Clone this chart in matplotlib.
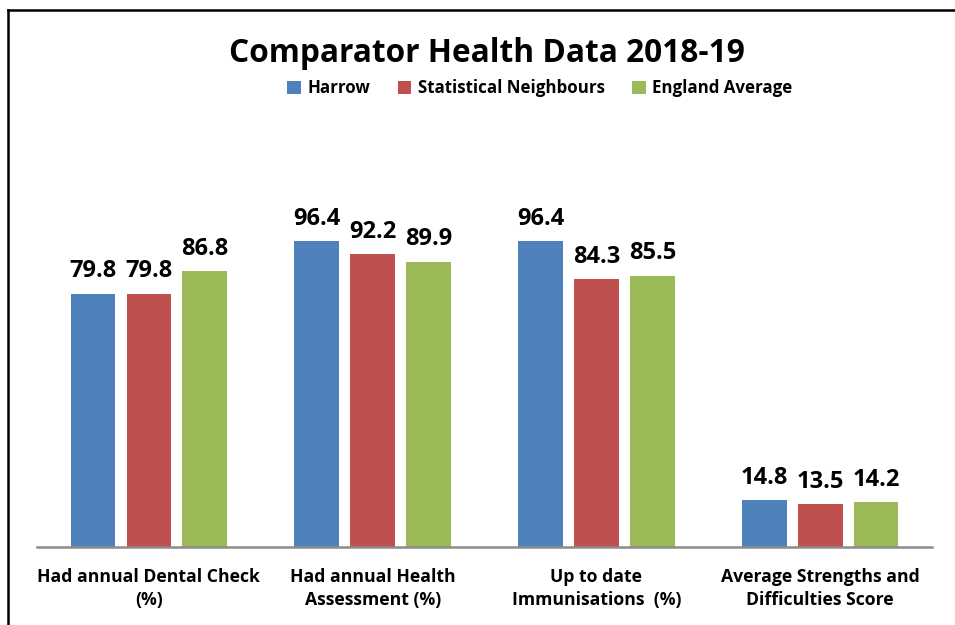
import numpy as np
import matplotlib.pyplot as plt
from matplotlib.lines import Line2D

plt.rcParams['font.family'] = ['Open Sans', 'DejaVu Sans']

categories = ['Had annual Dental Check\n(%)', 'Had annual Health\nAssessment (%)',
              'Up to date\nImmunisations  (%)', 'Average Strengths and\nDifficulties Score']
series_names = ['Harrow', 'Statistical Neighbours', 'England Average']
harrow = [79.8, 96.4, 96.4, 14.8]
neighbours = [79.8, 92.2, 84.3, 13.5]
england = [86.8, 89.9, 85.5, 14.2]
colours = ['#4F81BD', '#C0504D', '#9BBB59']

fig = plt.figure(figsize=(9.55, 6.25), dpi=100)
ax = fig.add_axes([37/955, 1 - 547/625, 895/955, 381/625])

x = np.arange(len(categories))
width = 0.2
step = 0.25
for i, (vals, name) in enumerate(zip([harrow, neighbours, england], series_names)):
    pos = x + (i - 1) * step
    bars = ax.bar(pos, vals, width, color=colours[i], label=name, zorder=2)
    for b, v in zip(bars, vals):
        ax.text(b.get_x() + b.get_width() / 2, v + 3.2, '%.1f' % v,
                ha='center', va='bottom', fontsize=17, fontweight='bold')

ax.set_xlim(-0.5, len(categories) - 0.5)
ax.set_ylim(0, 120)
ax.set_yticks([])
ax.set_xticks(x)
ax.set_xticklabels(categories, fontsize=12.7, fontweight='bold', linespacing=1.38)
ax.tick_params(axis='x', length=0, pad=15)
for s in ['top', 'right', 'left']:
    ax.spines[s].set_visible(False)
ax.spines['bottom'].set_color('#8c8c8c')
ax.spines['bottom'].set_linewidth(1.8)

fig.text(487/955, 1 - 54/625, 'Comparator Health Data 2018-19', ha='center', va='center',
         fontsize=22.8, fontweight='bold')
fig.legend(loc='center', bbox_to_anchor=(540/955, 1 - 88/625), ncol=3, frameon=False,
           prop={'size': 12.2, 'weight': 'bold'}, handlelength=0.8, handleheight=0.8,
           handletextpad=0.4, columnspacing=1.6)

# frame around the chart (top and left edges)
fig.add_artist(Line2D([8/955, 1], [1 - 10/625, 1 - 10/625], color='black', lw=1.8))
fig.add_artist(Line2D([8/955, 8/955], [0, 1 - 10/625], color='black', lw=1.8))

fig.savefig('out.png', dpi=100)
